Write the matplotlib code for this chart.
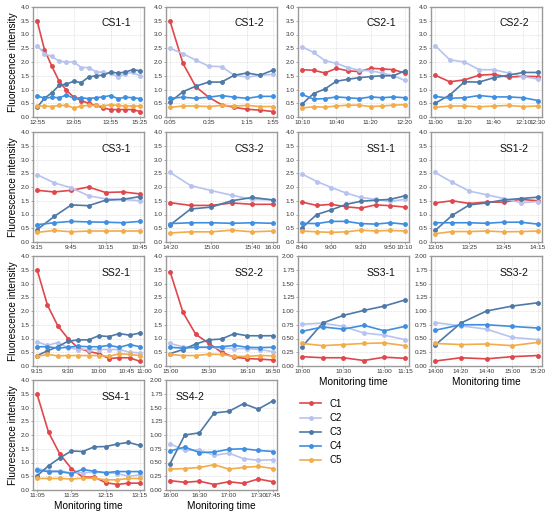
import matplotlib
matplotlib.use("Agg")
import matplotlib.pyplot as plt
import matplotlib.transforms as mtransforms
from matplotlib.ticker import MultipleLocator, FormatStrFormatter

plt.rcParams['font.family'] = ['Liberation Sans', 'DejaVu Sans']

series_names = ["C1", "C2", "C3", "C4", "C5"]
colors = ["#e0474c", "#b7c3ee", "#4e79a7", "#3f8fe0", "#f2ac4a"]

# ---- panel data (values per series, x ticks as (index, label)) ----
cs1_1_c1 = [3.5, 2.45, 1.85, 1.3, 0.97, 0.72, 0.6, 0.5, 0.42, 0.33, 0.27, 0.27, 0.27, 0.27, 0.2]
cs1_1_c2 = [2.6, 2.3, 2.2, 2.03, 2.0, 2.0, 1.8, 1.8, 1.65, 1.62, 1.6, 1.45, 1.58, 1.62, 1.5]
cs1_1_c3 = [0.35, 0.68, 0.88, 1.15, 1.2, 1.3, 1.25, 1.45, 1.5, 1.52, 1.63, 1.6, 1.63, 1.72, 1.68]
cs1_1_c4 = [0.77, 0.68, 0.72, 0.7, 0.8, 0.68, 0.7, 0.67, 0.7, 0.73, 0.78, 0.67, 0.72, 0.7, 0.67]
cs1_1_c5 = [0.4, 0.4, 0.38, 0.42, 0.42, 0.33, 0.4, 0.42, 0.42, 0.4, 0.45, 0.42, 0.4, 0.4, 0.4]
cs1_1_ticks = [(0, "12:55"), (5, "13:05"), (10, "13:55"), (14, "15:25")]

cs1_2_c1 = [3.48, 1.95, 1.1, 0.72, 0.45, 0.35, 0.28, 0.25, 0.2]
cs1_2_c2 = [2.5, 2.3, 2.07, 1.85, 1.83, 1.52, 1.45, 1.52, 1.55]
cs1_2_c3 = [0.55, 0.92, 1.12, 1.27, 1.27, 1.52, 1.6, 1.52, 1.7]
cs1_2_c4 = [0.68, 0.72, 0.68, 0.72, 0.78, 0.72, 0.68, 0.75, 0.75]
cs1_2_c5 = [0.35, 0.4, 0.4, 0.38, 0.42, 0.4, 0.42, 0.38, 0.38]
cs1_2_ticks = [(0, "0:05"), (3, "0:35"), (6, "1:15"), (8, "1:55")]

cs2_1_c1 = [1.72, 1.7, 1.6, 1.77, 1.68, 1.65, 1.77, 1.75, 1.72, 1.6]
cs2_1_c2 = [2.55, 2.35, 2.05, 1.95, 1.8, 1.7, 1.68, 1.6, 1.5, 1.33]
cs2_1_c3 = [0.47, 0.85, 1.02, 1.3, 1.37, 1.43, 1.47, 1.5, 1.5, 1.68]
cs2_1_c4 = [0.82, 0.65, 0.67, 0.73, 0.7, 0.67, 0.73, 0.7, 0.73, 0.7]
cs2_1_c5 = [0.33, 0.37, 0.36, 0.4, 0.43, 0.43, 0.38, 0.4, 0.43, 0.45]
cs2_1_ticks = [(0, "10:10"), (3, "10:40"), (6, "11:20"), (9, "12:20")]

cs2_2_c1 = [1.52, 1.28, 1.35, 1.52, 1.55, 1.45, 1.48, 1.47]
cs2_2_c2 = [2.6, 2.08, 2.0, 1.72, 1.72, 1.6, 1.47, 1.38]
cs2_2_c3 = [0.5, 0.8, 1.28, 1.27, 1.43, 1.52, 1.62, 1.62]
cs2_2_c4 = [0.75, 0.68, 0.7, 0.78, 0.73, 0.73, 0.7, 0.6]
cs2_2_c5 = [0.35, 0.4, 0.4, 0.37, 0.4, 0.42, 0.38, 0.4]
cs2_2_ticks = [(0, "11:00"), (2, "11:20"), (4, "11:40"), (6, "12:10"), (7, "12:30")]

cs3_1_c1 = [1.88, 1.82, 1.88, 2.0, 1.8, 1.82, 1.75]
cs3_1_c2 = [2.45, 2.15, 1.97, 1.68, 1.57, 1.55, 1.5]
cs3_1_c3 = [0.45, 0.93, 1.35, 1.32, 1.52, 1.55, 1.65]
cs3_1_c4 = [0.63, 0.7, 0.75, 0.73, 0.72, 0.7, 0.75]
cs3_1_c5 = [0.35, 0.42, 0.37, 0.4, 0.4, 0.4, 0.4]
cs3_1_ticks = [(0, "9:15"), (2, "9:45"), (4, "10:15"), (6, "10:45")]

cs3_2_c1 = [1.43, 1.33, 1.33, 1.42, 1.37, 1.37]
cs3_2_c2 = [2.53, 2.05, 1.87, 1.7, 1.55, 1.53]
cs3_2_c3 = [0.62, 1.2, 1.27, 1.5, 1.62, 1.53]
cs3_2_c4 = [0.67, 0.7, 0.7, 0.68, 0.7, 0.68]
cs3_2_c5 = [0.33, 0.37, 0.37, 0.43, 0.37, 0.4]
cs3_2_ticks = [(0, "14:20"), (2, "15:00"), (4, "15:40"), (5, "16:00")]

ss1_1_c1 = [1.45, 1.33, 1.37, 1.28, 1.23, 1.35, 1.32, 1.27]
ss1_1_c2 = [2.47, 2.2, 1.98, 1.78, 1.62, 1.55, 1.48, 1.55]
ss1_1_c3 = [0.52, 1.0, 1.17, 1.37, 1.48, 1.52, 1.55, 1.68]
ss1_1_c4 = [0.68, 0.67, 0.75, 0.75, 0.67, 0.65, 0.7, 0.65]
ss1_1_c5 = [0.4, 0.37, 0.35, 0.37, 0.43, 0.4, 0.42, 0.4]
ss1_1_ticks = [(0, "8:40"), (2, "9:00"), (4, "9:20"), (6, "9:50"), (7, "10:10")]

ss1_2_c1 = [1.42, 1.5, 1.4, 1.45, 1.45, 1.55, 1.5]
ss1_2_c2 = [2.53, 2.17, 1.85, 1.72, 1.58, 1.43, 1.47]
ss1_2_c3 = [0.42, 0.97, 1.35, 1.42, 1.53, 1.58, 1.63]
ss1_2_c4 = [0.7, 0.7, 0.7, 0.68, 0.72, 0.72, 0.65]
ss1_2_c5 = [0.3, 0.38, 0.38, 0.4, 0.37, 0.38, 0.4]
ss1_2_ticks = [(0, "13:05"), (2, "13:25"), (4, "13:45"), (6, "14:15")]

ss2_1_c1 = [3.5, 2.22, 1.47, 1.0, 0.65, 0.53, 0.45, 0.27, 0.3, 0.3, 0.17]
ss2_1_c2 = [0.88, 0.75, 0.85, 0.67, 0.6, 0.6, 0.6, 0.6, 0.6, 0.5, 0.48]
ss2_1_c3 = [0.38, 0.55, 0.7, 0.9, 0.95, 0.95, 1.1, 1.07, 1.18, 1.12, 1.2]
ss2_1_c4 = [0.7, 0.7, 0.65, 0.68, 0.72, 0.7, 0.7, 0.75, 0.68, 0.78, 0.7]
ss2_1_c5 = [0.35, 0.42, 0.37, 0.38, 0.38, 0.38, 0.38, 0.35, 0.45, 0.42, 0.38]
ss2_1_ticks = [(0, "9:15"), (3, "9:30"), (6, "10:00"), (9, "10:45"), (10, "11:00")]

ss2_2_c1 = [3.43, 1.95, 1.15, 0.83, 0.5, 0.32, 0.27, 0.25, 0.22]
ss2_2_c2 = [0.82, 0.7, 0.68, 0.68, 0.65, 0.63, 0.63, 0.6, 0.52]
ss2_2_c3 = [0.45, 0.6, 0.8, 0.95, 0.98, 1.18, 1.1, 1.1, 1.1]
ss2_2_c4 = [0.68, 0.65, 0.68, 0.68, 0.7, 0.75, 0.68, 0.67, 0.68]
ss2_2_c5 = [0.42, 0.38, 0.38, 0.43, 0.42, 0.35, 0.35, 0.38, 0.37]
ss2_2_ticks = [(0, "15:00"), (3, "15:30"), (6, "16:10"), (8, "16:50")]

ss3_1_c1 = [0.17, 0.15, 0.15, 0.1, 0.16, 0.14]
ss3_1_c2 = [0.76, 0.78, 0.72, 0.6, 0.56, 0.48]
ss3_1_c3 = [0.35, 0.78, 0.92, 1.01, 1.09, 1.2]
ss3_1_c4 = [0.63, 0.71, 0.67, 0.74, 0.64, 0.72]
ss3_1_c5 = [0.41, 0.37, 0.39, 0.41, 0.42, 0.37]
ss3_1_ticks = [(0, "10:00"), (2, "10:30"), (4, "11:00"), (5, "11:15")]

ss3_2_c1 = [0.09, 0.15, 0.13, 0.17, 0.19]
ss3_2_c2 = [0.79, 0.73, 0.67, 0.52, 0.48]
ss3_2_c3 = [0.38, 0.78, 1.0, 1.09, 1.15]
ss3_2_c4 = [0.65, 0.75, 0.75, 0.72, 0.69]
ss3_2_c5 = [0.41, 0.39, 0.4, 0.37, 0.43]
ss3_2_ticks = [(0, "14:00"), (1, "14:20"), (2, "14:40"), (3, "15:00"), (4, "15:20")]

ss4_1_c1 = [3.48, 2.1, 1.3, 0.78, 0.47, 0.47, 0.27, 0.2, 0.25, 0.25]
ss4_1_c2 = [0.78, 0.7, 0.7, 0.62, 0.63, 0.65, 0.63, 0.6, 0.5, 0.55]
ss4_1_c3 = [0.52, 0.88, 1.17, 1.42, 1.4, 1.57, 1.58, 1.67, 1.73, 1.62]
ss4_1_c4 = [0.72, 0.67, 0.67, 0.6, 0.75, 0.68, 0.63, 0.67, 0.67, 0.67]
ss4_1_c5 = [0.42, 0.42, 0.42, 0.4, 0.43, 0.43, 0.37, 0.37, 0.42, 0.42]
ss4_1_ticks = [(0, "11:05"), (3, "11:35"), (6, "12:15"), (9, "13:15")]

ss4_2_c1 = [0.17, 0.14, 0.16, 0.1, 0.15, 0.12, 0.2, 0.15]
ss4_2_c2 = [0.84, 0.72, 0.73, 0.63, 0.67, 0.57, 0.54, 0.55]
ss4_2_c3 = [0.48, 1.0, 1.04, 1.4, 1.43, 1.57, 1.47, 1.62]
ss4_2_c4 = [0.71, 0.78, 0.68, 0.69, 0.74, 0.75, 0.72, 0.7]
ss4_2_c5 = [0.38, 0.39, 0.41, 0.46, 0.38, 0.41, 0.43, 0.39]
ss4_2_ticks = [(0, "16:00"), (2, "16:30"), (4, "17:00"), (6, "17:30"), (7, "17:45")]

panels = [
    ("CS1-1", [cs1_1_c1, cs1_1_c2, cs1_1_c3, cs1_1_c4, cs1_1_c5], cs1_1_ticks, 4.0),
    ("CS1-2", [cs1_2_c1, cs1_2_c2, cs1_2_c3, cs1_2_c4, cs1_2_c5], cs1_2_ticks, 4.0),
    ("CS2-1", [cs2_1_c1, cs2_1_c2, cs2_1_c3, cs2_1_c4, cs2_1_c5], cs2_1_ticks, 4.0),
    ("CS2-2", [cs2_2_c1, cs2_2_c2, cs2_2_c3, cs2_2_c4, cs2_2_c5], cs2_2_ticks, 4.0),
    ("CS3-1", [cs3_1_c1, cs3_1_c2, cs3_1_c3, cs3_1_c4, cs3_1_c5], cs3_1_ticks, 4.0),
    ("CS3-2", [cs3_2_c1, cs3_2_c2, cs3_2_c3, cs3_2_c4, cs3_2_c5], cs3_2_ticks, 4.0),
    ("SS1-1", [ss1_1_c1, ss1_1_c2, ss1_1_c3, ss1_1_c4, ss1_1_c5], ss1_1_ticks, 4.0),
    ("SS1-2", [ss1_2_c1, ss1_2_c2, ss1_2_c3, ss1_2_c4, ss1_2_c5], ss1_2_ticks, 4.0),
    ("SS2-1", [ss2_1_c1, ss2_1_c2, ss2_1_c3, ss2_1_c4, ss2_1_c5], ss2_1_ticks, 4.0),
    ("SS2-2", [ss2_2_c1, ss2_2_c2, ss2_2_c3, ss2_2_c4, ss2_2_c5], ss2_2_ticks, 4.0),
    ("SS3-1", [ss3_1_c1, ss3_1_c2, ss3_1_c3, ss3_1_c4, ss3_1_c5], ss3_1_ticks, 2.0),
    ("SS3-2", [ss3_2_c1, ss3_2_c2, ss3_2_c3, ss3_2_c4, ss3_2_c5], ss3_2_ticks, 2.0),
    ("SS4-1", [ss4_1_c1, ss4_1_c2, ss4_1_c3, ss4_1_c4, ss4_1_c5], ss4_1_ticks, 4.0),
    ("SS4-2", [ss4_2_c1, ss4_2_c2, ss4_2_c3, ss4_2_c4, ss4_2_c5], ss4_2_ticks, 2.0),
]

W, H = 550, 516
fig = plt.figure(figsize=(W / 100, H / 100), dpi=100)

col_left = [33, 166, 298, 431]
row_top = [7, 132, 256, 380]
aw, ah = 111, 110

spine_c = "#9a9a9a"
handles = None
for i, (name, vals, ticks, ymax) in enumerate(panels):
    r, c = divmod(i, 4)
    ax = fig.add_axes([col_left[c] / W, 1 - (row_top[r] + ah) / H, aw / W, ah / H])
    hs = []
    for k, v in enumerate(vals):
        h, = ax.plot(range(len(v)), v, color=colors[k], lw=1.2, marker="o", ms=2.5,
                     mec=colors[k], label=series_names[k], zorder=3)
        hs.append(h)
    handles = hs
    n = len(vals[0])
    m = (n - 1) * 0.04
    ax.set_xlim(-m, n - 1 + m)
    ax.set_ylim(0, ymax)
    if ymax == 4.0:
        ax.yaxis.set_major_locator(MultipleLocator(0.5))
        ax.yaxis.set_major_formatter(FormatStrFormatter("%.1f"))
    else:
        ax.yaxis.set_major_locator(MultipleLocator(0.25))
        ax.yaxis.set_major_formatter(FormatStrFormatter("%.2f"))
    ax.set_xticks([t[0] for t in ticks])
    ax.set_xticklabels([t[1] for t in ticks])
    ax.tick_params(labelsize=4.6, length=1.5, width=0.6, pad=1, color=spine_c,
                   labelcolor="#333333")
    if name == "SS2-1":
        # the last two labels sit one step apart: nudge them so they just touch
        labs = ax.get_xticklabels()
        for lab, dx in ((labs[-2], -3.5), (labs[-1], 4.0)):
            lab.set_transform(lab.get_transform() +
                              mtransforms.ScaledTranslation(dx / 100, 0, fig.dpi_scale_trans))
    ax.grid(True, color="#dcdcdc", lw=0.5, ls=(0, (2, 1.5)))
    ax.set_axisbelow(True)
    for s in ax.spines.values():
        s.set_color(spine_c)
        s.set_linewidth(1.0)
    tx = 0.22 if name == "SS4-2" else 0.75
    ax.text(tx, 0.85, name, transform=ax.transAxes, ha="center", va="center",
            fontsize=7.5, color="#111111")
    if c == 0:
        ax.set_ylabel("Fluorescence intensity", fontsize=7.2, labelpad=2)
    if (r == 2 and c >= 2) or r == 3:
        ax.set_xlabel("Monitoring time", fontsize=7.2, labelpad=2)

fig.legend(handles=handles, labels=series_names, loc="upper left",
           bbox_to_anchor=(296 / W, 1 - 395 / H), frameon=False, fontsize=7,
           handlelength=2.2, handletextpad=0.8, labelspacing=0.42, borderaxespad=0)

fig.savefig("out.png", dpi=100)
